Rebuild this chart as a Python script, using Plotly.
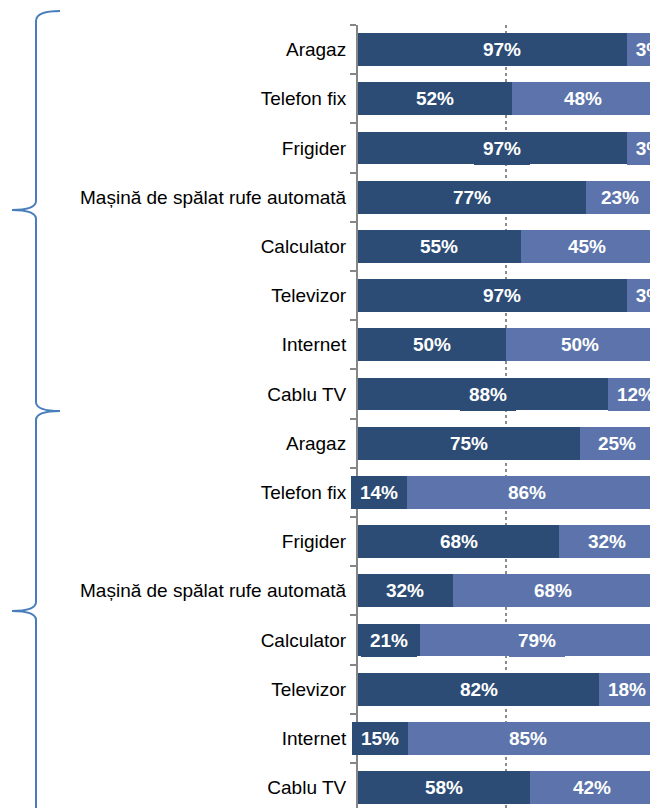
import plotly.graph_objects as go

categories = ["Aragaz", "Telefon fix", "Frigider", "Mașină de spălat rufe automată",
              "Calculator", "Televizor", "Internet", "Cablu TV",
              "Aragaz", "Telefon fix", "Frigider", "Mașină de spălat rufe automată",
              "Calculator", "Televizor", "Internet", "Cablu TV"]
series_a = [97, 52, 97, 77, 55, 97, 50, 88, 75, 14, 68, 32, 21, 82, 15, 58]
series_b = [3, 48, 3, 23, 45, 3, 50, 12, 25, 86, 32, 68, 79, 18, 85, 42]

DARK = "#2C4C75"
LIGHT = "#5C74AB"
OFF = 8  # page body margin
FIG_W, FIG_H = 658 - OFF, 808 - OFF
ML, MR, MT, MB = 358 - OFF, 4, 25 - OFF, 0
ROW_PX = 49.2
plot_h = FIG_H - MT - MB
plot_w = FIG_W - ML - MR
y_bottom = -0.5 + plot_h / ROW_PX

pos = list(range(len(categories)))

fig = go.Figure()
fig.add_trace(go.Bar(y=pos, x=series_a, orientation="h", marker=dict(color=DARK, line=dict(width=0)),
                     width=0.67, name="A", showlegend=False, hoverinfo="x"))
fig.add_trace(go.Bar(y=pos, x=series_b, orientation="h", marker=dict(color=LIGHT, line=dict(width=0)),
                     width=0.67, name="B", showlegend=False, hoverinfo="x"))

annotations = []
for i, (a, b) in enumerate(zip(series_a, series_b)):
    for start, val, col in ((0, a, DARK), (a, b, LIGHT)):
        txt = f"{val}%"
        w = 56 if len(txt) == 3 else 45
        annotations.append(dict(x=start + val / 2, y=i, xref="x", yref="y", text=f"<b>{txt}</b>",
                                showarrow=False, bgcolor=col, width=w, height=33,
                                borderpad=0, borderwidth=0,
                                font=dict(family="Liberation Sans, Arial, sans-serif", size=19, color="white")))


def px2paper(x, y):
    # x, y in page pixels
    fx, fy = x - OFF, y - OFF
    return (fx - ML) / plot_w, (FIG_H - MB - fy) / plot_h


def brace_path(pts):
    out = []
    for cmd, coords in pts:
        conv = []
        for (x, y) in coords:
            px, py = px2paper(x, y)
            conv.append(f"{px:.5f},{py:.5f}")
        out.append(cmd + " " + " ".join(conv))
    return " ".join(out)


brace1 = brace_path([
    ("M", [(60, 11)]), ("Q", [(36, 11), (36, 21)]), ("L", [(36, 201)]),
    ("Q", [(36, 210), (12, 210)]), ("Q", [(36, 210), (36, 219)]), ("L", [(36, 402)]),
    ("Q", [(36, 411), (60, 411)]),
])
brace2 = brace_path([
    ("M", [(60, 411)]), ("Q", [(36, 411), (36, 420)]), ("L", [(36, 602)]),
    ("Q", [(36, 611), (12, 611)]), ("Q", [(36, 611), (36, 620)]), ("L", [(36, 820)]),
])
shapes = [dict(type="path", xref="paper", yref="paper", path=p,
               line=dict(color="#4A7EBB", width=2)) for p in (brace1, brace2)]

fig.update_layout(
    barmode="stack", width=FIG_W, height=FIG_H,
    margin=dict(l=ML, r=MR, t=MT, b=MB, pad=0),
    plot_bgcolor="white", paper_bgcolor="white",
    bargap=0.33, annotations=annotations, shapes=shapes,
    font=dict(family="Liberation Sans, Arial, sans-serif", color="#000000"),
    xaxis=dict(range=[0, 100], tickvals=[0, 50, 100], showticklabels=False, ticks="",
               showgrid=True, gridcolor="#8C8C8C", gridwidth=1.5, griddash="dot",
               zeroline=False, showline=False, fixedrange=True),
    yaxis=dict(range=[y_bottom, -0.5], tickvals=pos, ticktext=categories,
               ticks="outside", ticklen=6, tickcolor="rgba(0,0,0,0)",
               tickfont=dict(size=19, color="#000000"), showgrid=False, zeroline=False,
               showline=True, linecolor="#868686", linewidth=2,
               minor=dict(tickvals=[k - 0.5 for k in range(len(categories) + 1)],
                          ticks="outside", ticklen=6, tickcolor="#868686", tickwidth=1.5,
                          showgrid=False)),
)

fig.write_html("out.html")
